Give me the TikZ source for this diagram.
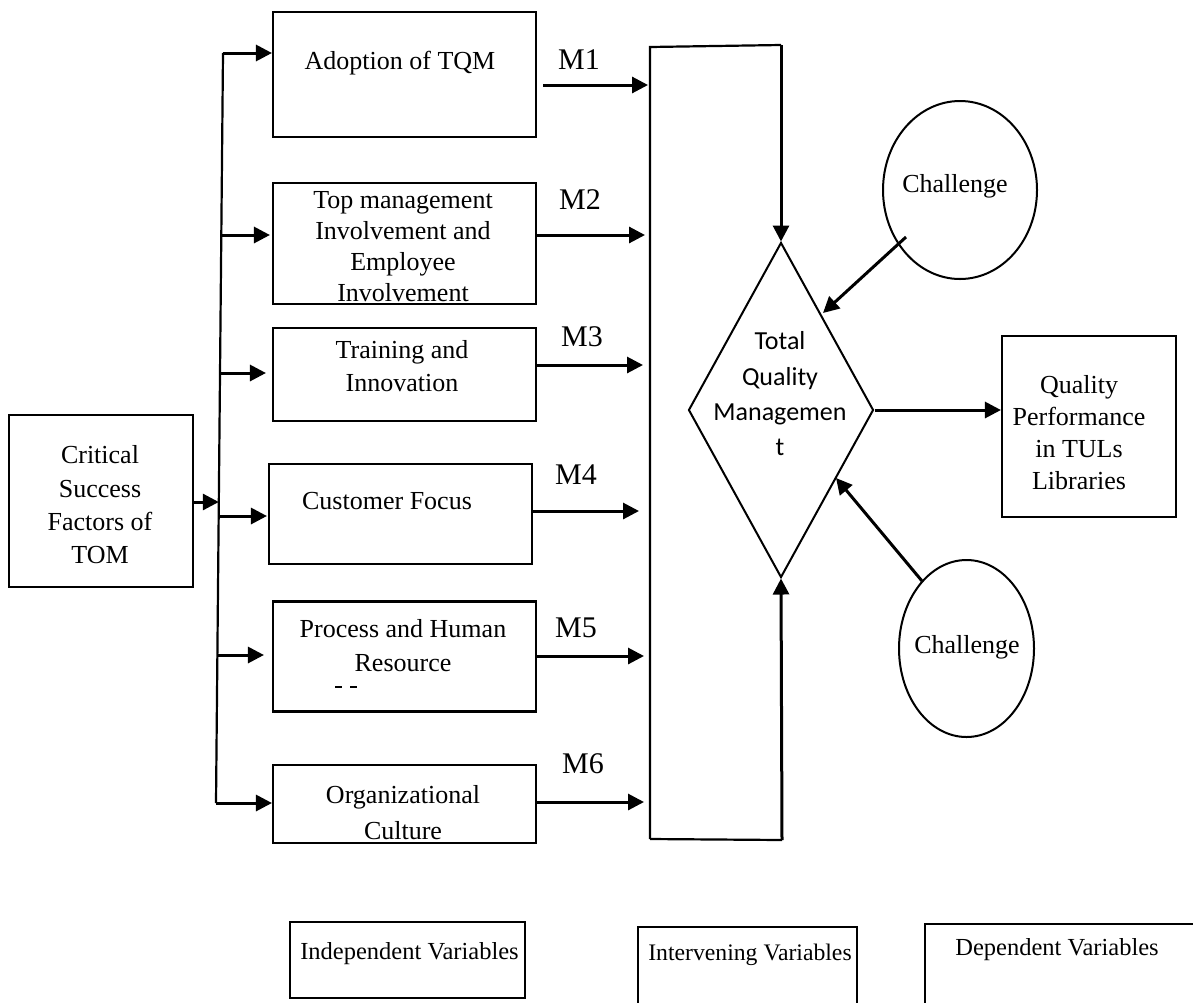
\documentclass[tikz,border=0pt]{standalone}
\usepackage{fontspec}
\setmainfont{Liberation Serif}
\newfontfamily\calib{Carlito}
\usetikzlibrary{shapes.geometric,arrows.meta}
\begin{document}
\begin{tikzpicture}[x=1pt,y=-1pt,
  box/.style={draw, line width=2.1pt, inner sep=0pt},
  lbl/.style={font=\fontsize{26}{31}\selectfont, align=center, inner sep=0pt},
  blbl/.style={font=\fontsize{24.5}{29}\selectfont, inner sep=0pt},
  mlbl/.style={font=\fontsize{30}{36}\selectfont, inner sep=0pt},
  arr/.style={line width=3pt, -{Triangle[length=16pt,width=16pt]}},
  ln/.style={line width=2.2pt}]
\useasboundingbox (0,0) rectangle (1193,1002);

% independent variable boxes
\node[box, minimum width=263pt, minimum height=125pt] (b1) at (404.5,74.5) {};
\node[lbl] (t1) at (400,63) {Adoption of TQM};
\node[box, minimum width=263pt, minimum height=121pt] (b2) at (404.5,243.5) {};
\node[lbl] (t2) at (403,246.5) {Top management\\Involvement and\\Employee\\Involvement};
\node[box, minimum width=263pt, minimum height=93pt] (b3) at (404.5,374.5) {};
\node[lbl, font=\fontsize{26}{33}\selectfont] (t3) at (402,366.5) {Training and\\Innovation};
\node[box, minimum width=263pt, minimum height=100pt] (b4) at (400.5,514) {};
\node[lbl] (t4) at (387,501) {Customer Focus};
\node[box, minimum width=263pt, minimum height=110pt] (b5) at (404.5,656.5) {};
\node[lbl, font=\fontsize{26}{34}\selectfont] (t5) at (403,646) {Process and Human\\Resource};
\draw[line width=1.2pt] (335,687) -- (342,687) (350,687) -- (357,687);
\node[box, minimum width=263pt, minimum height=78pt] (b6) at (404.5,804) {};
\node[lbl, font=\fontsize{26}{36}\selectfont] (t6) at (403,813) {Organizational\\Culture};

% critical success factors
\node[box, minimum width=184pt, minimum height=172pt] (csf) at (101,501) {};
\node[lbl, font=\fontsize{26}{33.3}\selectfont] (tcsf) at (100,505) {Critical\\Success\\Factors of\\TOM};

% bus
\coordinate (j1) at (223,53);
\coordinate (j2) at (221.3,235);
\coordinate (j3) at (220,373);
\coordinate (jc) at (218.8,502);
\coordinate (j4) at (218.7,516);
\coordinate (j5) at (217.4,655);
\coordinate (j6) at (216,803);
\draw[ln] (j1) -- (j6);
\draw[arr] (j1) -- (j1 -| b1.west);
\draw[arr, shorten >=2pt] (j2) -- (j2 -| b2.west);
\draw[arr, shorten >=6pt] (j3) -- (j3 -| b3.west);
\draw[arr, shorten >=1pt] (j4) -- (j4 -| b4.west);
\draw[arr, shorten >=8pt] (j5) -- (j5 -| b5.west);
\draw[arr] (j6) -- (j6 -| b6.west);
\draw[arr] (csf.east |- jc) -- (jc);

% open intervening box
\coordinate (obTL) at (650,47);
\coordinate (obTR) at (781,45);
\coordinate (obBL) at (650,839);
\coordinate (obBR) at (782,840);
\draw[ln] (obBL) -- (obTL) -- (obTR);
\draw[ln] (obBL) -- (obBR);

% M arrows
\coordinate (m1) at (648,85);
\coordinate (m2) at (645,235);
\coordinate (m3) at (643,365);
\coordinate (m4) at (639,511);
\coordinate (m5) at (644,656);
\coordinate (m6) at (644,802);
\draw[arr, shorten <=6pt] (m1 -| b1.east) -- (m1);
\draw[arr] (m2 -| b2.east) -- (m2);
\draw[arr] (m3 -| b3.east) -- (m3);
\draw[arr] (m4 -| b4.east) -- (m4);
\draw[arr] (m5 -| b5.east) -- (m5);
\draw[arr] (m6 -| b6.east) -- (m6);
\node[mlbl] (M1) at (579,60) {M1};
\node[mlbl] (M2) at (580,200) {M2};
\node[mlbl] (M3) at (582,337) {M3};
\node[mlbl] (M4) at (576,475) {M4};
\node[mlbl] (M5) at (576,628) {M5};
\node[mlbl] (M6) at (583,764) {M6};

% diamond
\node[draw, diamond, line width=2pt, minimum width=185pt, minimum height=335pt, aspect=0.55, inner sep=0pt] (dia) at (781,410) {};
\node[font=\calib\fontsize{26}{35.3}\selectfont, align=center, inner sep=0pt] (tdia) at (780,394) {Total\\Quality\\Managemen\\t};
\draw[arr] (obTR) -- (dia.north);
\draw[arr] (obBR) -- (dia.south);

% challenges
\node[draw, ellipse, line width=2pt, minimum width=154pt, minimum height=178pt, inner sep=0pt] (c1) at (960,190) {};
\node[lbl] (tc1) at (955,186) {Challenge};
\node[draw, ellipse, line width=2pt, minimum width=135pt, minimum height=177pt, inner sep=0pt] (c2) at (966.5,648.5) {};
\node[lbl] (tc2) at (967,647) {Challenge};
\coordinate (c1s) at (906,237);
\coordinate (c1e) at (823,313);
\coordinate (c2s) at (922,581);
\coordinate (c2e) at (836,478);
\draw[arr] (c1s) -- (c1e);
\draw[arr] (c2s) -- (c2e);

% quality performance
\node[box, minimum width=174pt, minimum height=181pt] (qp) at (1089,426.5) {};
\node[lbl, font=\fontsize{26}{32}\selectfont] (tqp) at (1079,432.5) {Quality\\Performance\\in TULs\\Libraries};
\draw[arr] (dia.east) -- (dia.east -| qp.west);

% legend boxes
\node[box, minimum width=235pt, minimum height=76pt] (ind) at (407.5,960) {};
\node[blbl] (tind) at (409.5,954) {Independent Variables};
\node[box, minimum width=219pt, minimum height=83pt] (intv) at (747.5,968.5) {};
\node[blbl, font=\fontsize{23.7}{28}\selectfont] (tintv) at (750,955) {Intervening Variables};
\node[box, minimum width=275pt, minimum height=86pt] (dep) at (1062.5,967) {};
\node[blbl] (tdep) at (1057,950) {Dependent Variables};
\end{tikzpicture}
\end{document}
